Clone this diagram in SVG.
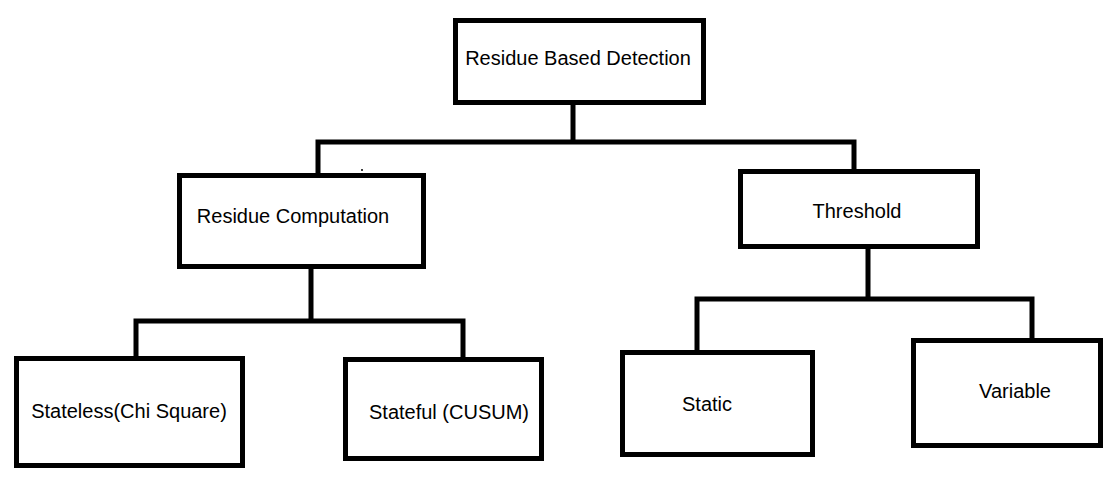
<svg xmlns="http://www.w3.org/2000/svg" width="1114" height="483" viewBox="0 0 1114 483">
<style>
.box{fill:#fff;stroke:#000;stroke-width:5}
.conn{fill:none;stroke:#000;stroke-width:5;stroke-linecap:square;stroke-linejoin:miter}
.lbl{font-family:"Liberation Sans",Arial,sans-serif;font-size:20px;fill:#000;text-anchor:middle}
</style>
<rect width="1114" height="483" fill="#fff"/>
<g id="connectors">
<path class="conn" d="M573,102 V142 M318,142 H854 M318,142 V175 M854,142 V171"/>
<path class="conn" d="M311,266 V321 M136,321 H463 M136,321 V357 M463,321 V358"/>
<path class="conn" d="M868,246 V299 M697,299 H1032 M697,299 V351 M1032,299 V340"/>
<circle cx="362" cy="170" r="1" fill="#000"/>
</g>
<g id="node-root">
<rect class="box" x="455.5" y="20.5" width="248" height="82"/>
<text class="lbl" x="578" y="65">Residue Based Detection</text>
</g>
<g id="node-residue-computation">
<rect class="box" x="179.5" y="175.5" width="244" height="91"/>
<text class="lbl" x="293" y="223">Residue Computation</text>
</g>
<g id="node-threshold">
<rect class="box" x="740.5" y="171.5" width="237" height="75"/>
<text class="lbl" x="857" y="218">Threshold</text>
</g>
<g id="node-stateless">
<rect class="box" x="16.5" y="358.5" width="226" height="107"/>
<text class="lbl" x="129" y="418">Stateless(Chi Square)</text>
</g>
<g id="node-stateful">
<rect class="box" x="345.5" y="359.5" width="196" height="99"/>
<text class="lbl" x="449" y="419">Stateful (CUSUM)</text>
</g>
<g id="node-static">
<rect class="box" x="622.5" y="352.5" width="190" height="102"/>
<text class="lbl" x="707" y="411">Static</text>
</g>
<g id="node-variable">
<rect class="box" x="913.5" y="340.5" width="187" height="105"/>
<text class="lbl" x="1015" y="398">Variable</text>
</g>
</svg>
